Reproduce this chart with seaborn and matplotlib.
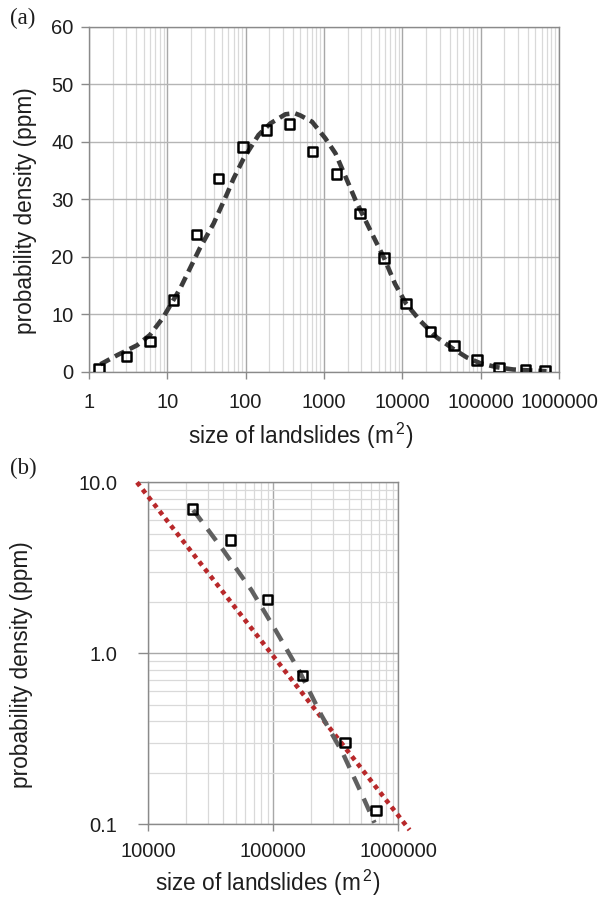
import matplotlib
matplotlib.use("Agg")
import numpy as np
import pandas as pd
import matplotlib.pyplot as plt
import seaborn as sns
from matplotlib.ticker import LogLocator, FuncFormatter, NullFormatter, FixedLocator

# ---------------- data ----------------
# observed landslide-size densities (doubling bins)
size_obs = [1.34, 3.03, 6.0, 12.0, 23.7, 45, 93, 185, 361, 710, 1450, 2880,
            5840, 11100, 22700, 45600, 89900, 171000, 373000, 663000]
dens_obs = [0.58, 2.7, 5.3, 12.5, 23.9, 33.6, 39.1, 42.1, 43.1, 38.3, 34.4, 27.5,
            19.8, 11.9, 7.0, 4.6, 2.07, 0.74, 0.30, 0.12]

# fitted curve, panel (a)
fit_a_x = [1.4, 2.3, 4.1, 6.0, 8.8, 14.6, 26, 39, 58, 70, 94, 146, 206, 321, 420,
           499, 704, 1042, 1400, 1970, 2500, 3900, 5840, 8060, 11100, 16800, 27400,
           44400, 66400, 98400, 160000, 259000, 400000, 693000]
fit_a_y = [1.3, 2.9, 4.6, 6.4, 9.4, 14.5, 21.5, 25.8, 31.0, 33.6, 37.1, 41.2, 43.2,
           44.8, 45.0, 44.6, 43.5, 40.6, 38.0, 33.3, 30.0, 24.6, 19.8, 15.3, 11.9,
           8.9, 6.0, 4.0, 2.5, 1.5, 0.8, 0.4, 0.25, 0.1]

# fitted curve tail, panel (b)
fit_b_x = [22960, 39800, 67000, 105900, 162600, 242100, 359700, 520000, 644000]
fit_b_y = [6.89, 4.02, 2.34, 1.34, 0.78, 0.435, 0.26, 0.145, 0.102]

# power-law line, panel (b)
pow_x = [8170, 1225000]
pow_y = [10.0, 0.0927]

xticks_a = [1, 10, 100, 1000, 10000, 100000, 1000000]
yticks_a = [0, 10, 20, 30, 40, 50, 60]
xticks_b = [10000, 100000, 1000000]
yticks_b = [0.1, 1.0, 10.0]

N_TAIL = 6  # panel (b) shows the last six observations

# ---------------- style ----------------
sns.set_theme(style="white")
plt.rcParams["font.family"] = ["Liberation Sans", "DejaVu Sans"]
plt.rcParams["mathtext.default"] = "regular"

SPINE = "#8a8a8a"
MAJ = "#a8a8a8"
MIN = "#d9d9d9"
TXT = "#1e1e1e"
TICK_FS = 14.5
LAB_FS = 16.3

fig = plt.figure(figsize=(6.07, 8.98), dpi=100)
axa = fig.add_axes([0.1466, 0.586, 0.7744, 0.384])
axb = fig.add_axes([0.2438, 0.0821, 0.4127, 0.3808])

obs = pd.DataFrame({"size": size_obs, "dens": dens_obs})
fa = pd.DataFrame({"x": fit_a_x, "y": fit_a_y})
fb = pd.DataFrame({"x": fit_b_x, "y": fit_b_y})
pw = pd.DataFrame({"x": pow_x, "y": pow_y})

int_fmt = FuncFormatter(lambda v, p: f"{int(round(v))}")

# ---------------- panel (a) ----------------
axa.set_xscale("log")
sns.lineplot(data=fa, x="x", y="y", ax=axa, sort=False, color="#3c3c3c",
             lw=3.3, dashes=False, linestyle=(0, (2.3, 1.3)), zorder=3)
sns.scatterplot(data=obs, x="size", y="dens", ax=axa, marker="s", s=46,
                facecolor="none", edgecolor="black", linewidth=1.8, zorder=4)
axa.set_xlim(1, 1e6)
axa.set_ylim(0, 60)
axa.xaxis.set_major_locator(FixedLocator(xticks_a))
axa.xaxis.set_minor_locator(LogLocator(10, subs=np.arange(2, 10), numticks=100))
axa.xaxis.set_major_formatter(int_fmt)
axa.xaxis.set_minor_formatter(NullFormatter())
axa.yaxis.set_major_locator(FixedLocator(yticks_a))
axa.grid(which="major", axis="x", color=MAJ, lw=1.0)
axa.grid(which="minor", axis="x", color=MIN, lw=0.9)
axa.grid(which="major", axis="y", color="#b5b5b5", lw=1.0)
axa.set_axisbelow(True)

# ---------------- panel (b) ----------------
axb.set_xscale("log")
axb.set_yscale("log")
sns.lineplot(data=pw, x="x", y="y", ax=axb, sort=False, color="#b8282a",
             lw=3.3, dashes=False, linestyle=(0, (1, 1)), zorder=3, clip_on=False)
sns.lineplot(data=fb, x="x", y="y", ax=axb, sort=False, color="#606060",
             lw=3.2, dashes=False, linestyle=(0, (3.2, 2.2)), zorder=3)
sns.scatterplot(data=obs.tail(N_TAIL), x="size", y="dens", ax=axb, marker="s",
                s=46, facecolor="none", edgecolor="black", linewidth=1.8,
                zorder=4, clip_on=False)
axb.set_xlim(1e4, 1e6)
axb.set_ylim(0.1, 10)
axb.xaxis.set_major_locator(FixedLocator(xticks_b))
axb.xaxis.set_minor_locator(LogLocator(10, subs=np.arange(2, 10), numticks=100))
axb.xaxis.set_major_formatter(int_fmt)
axb.xaxis.set_minor_formatter(NullFormatter())
axb.yaxis.set_major_locator(FixedLocator(yticks_b))
axb.yaxis.set_minor_locator(LogLocator(10, subs=np.arange(2, 10), numticks=100))
axb.yaxis.set_major_formatter(FuncFormatter(lambda v, p: f"{v:.1f}"))
axb.yaxis.set_minor_formatter(NullFormatter())
axb.grid(which="major", color=MAJ, lw=1.0)
axb.grid(which="minor", color=MIN, lw=0.9)
axb.set_axisbelow(True)

for ax in (axa, axb):
    for sp in ax.spines.values():
        sp.set_visible(True)
        sp.set_color(SPINE)
        sp.set_linewidth(1.0)
    ax.tick_params(which="major", bottom=True, left=True, direction="out",
                   length=5, width=1.0, color=SPINE, labelsize=TICK_FS,
                   labelcolor=TXT)
    ax.tick_params(which="minor", bottom=False, left=False, length=0)

axa.tick_params(axis="x", which="major", pad=10)
axa.tick_params(axis="y", which="major", pad=5, length=6)
axb.tick_params(axis="x", which="major", pad=8)
axb.tick_params(axis="y", which="major", pad=15, length=7)

xlab = "size of landslides (m$^{\\,2}$)"
ylab = "probability density (ppm)"
axa.set_xlabel(xlab, fontsize=LAB_FS, color=TXT, va="center")
axa.xaxis.set_label_coords(0.45, -0.187)
axa.set_ylabel(ylab, fontsize=LAB_FS, color=TXT, va="center")
axa.yaxis.set_label_coords(-0.134, 0.468)
axb.set_xlabel(xlab, fontsize=LAB_FS, color=TXT, va="center")
axb.xaxis.set_label_coords(0.479, -0.172)
axb.set_ylabel(ylab, fontsize=LAB_FS, color=TXT, va="center")
axb.yaxis.set_label_coords(-0.503, 0.466)

fig.text(10 / 607, 1 - 18 / 898, "(a)", family=["Liberation Serif", "DejaVu Serif"],
         fontsize=16.5, color=TXT, va="center", ha="left")
fig.text(10 / 607, 1 - 468 / 898, "(b)", family=["Liberation Serif", "DejaVu Serif"],
         fontsize=16.5, color=TXT, va="center", ha="left")

fig.savefig("out.png", dpi=100, facecolor="white")
